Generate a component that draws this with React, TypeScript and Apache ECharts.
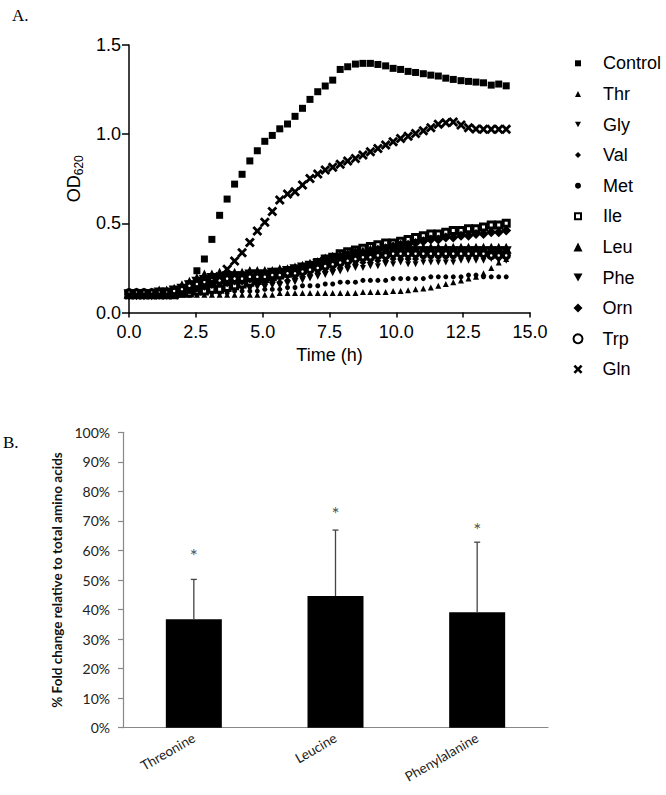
import React, { useEffect, useRef } from "react";
import * as echarts from "echarts";

// ---------- Panel A data ----------
const time = [0.0, 0.28, 0.56, 0.85, 1.13, 1.41, 1.69, 1.98, 2.26, 2.54, 2.82, 3.1, 3.39, 3.67, 3.95, 4.23, 4.52, 4.8, 5.08, 5.36, 5.64, 5.93, 6.21, 6.49, 6.77, 7.06, 7.34, 7.62, 7.9, 8.18, 8.47, 8.75, 9.03, 9.31, 9.6, 9.88, 10.16, 10.44, 10.72, 11.01, 11.29, 11.57, 11.85, 12.13, 12.42, 12.7, 12.98, 13.26, 13.55, 13.83, 14.11];

const control = [0.10, 0.10, 0.10, 0.10, 0.10, 0.10, 0.11, 0.12, 0.16,
  0.234, 0.30, 0.41, 0.545, 0.636, 0.72, 0.775, 0.85, 0.907, 0.96, 0.993, 1.03, 1.057, 1.10, 1.145, 1.195,
  1.238, 1.27, 1.303, 1.363, 1.378, 1.393, 1.397, 1.397, 1.391, 1.383, 1.369, 1.363, 1.352, 1.346, 1.339, 1.331, 1.326, 1.314, 1.307, 1.30, 1.296, 1.292, 1.288, 1.275, 1.281, 1.271];
const thr = [0.10, 0.10, 0.10, 0.10, 0.10, 0.10, 0.10, 0.10, 0.10,
  0.10, 0.10, 0.10, 0.10, 0.10, 0.10, 0.10, 0.10,
  0.10, 0.10, 0.10, 0.11, 0.11, 0.11, 0.11, 0.11,
  0.11, 0.11, 0.11, 0.11, 0.11, 0.11, 0.115,
  0.115, 0.115, 0.115, 0.12, 0.12, 0.125, 0.13, 0.135, 0.14,
  0.15, 0.16, 0.17, 0.18, 0.19, 0.20, 0.22, 0.25, 0.28, 0.30];
const gly = [0.10, 0.10, 0.10, 0.10, 0.10, 0.10, 0.10, 0.10, 0.11,
  0.11, 0.11, 0.12, 0.12, 0.12, 0.13, 0.13, 0.13,
  0.14, 0.14, 0.15, 0.15, 0.16, 0.17, 0.18, 0.19,
  0.20, 0.21, 0.22, 0.23, 0.24, 0.25, 0.25,
  0.26, 0.26, 0.27, 0.27, 0.28, 0.27, 0.27, 0.28, 0.28,
  0.28, 0.28, 0.28, 0.29, 0.29, 0.29, 0.29, 0.30, 0.29, 0.29];
const val = [0.10, 0.10, 0.10, 0.10, 0.10, 0.10, 0.10, 0.11, 0.11,
  0.12, 0.12, 0.13, 0.13, 0.14, 0.14, 0.15, 0.15,
  0.16, 0.16, 0.17, 0.17, 0.18, 0.19, 0.20, 0.21,
  0.22, 0.23, 0.24, 0.25, 0.26, 0.27, 0.28,
  0.28, 0.29, 0.29, 0.30, 0.30, 0.30, 0.30, 0.31, 0.31,
  0.31, 0.31, 0.31, 0.32, 0.32, 0.32, 0.32, 0.32, 0.32, 0.32];
const met = [0.10, 0.10, 0.10, 0.10, 0.10, 0.10, 0.10, 0.10, 0.10,
  0.10, 0.11, 0.11, 0.11, 0.11, 0.12, 0.12, 0.12,
  0.12, 0.13, 0.13, 0.13, 0.14, 0.14, 0.15, 0.15,
  0.15, 0.16, 0.16, 0.17, 0.17, 0.17, 0.18,
  0.18, 0.18, 0.18, 0.19, 0.19, 0.19, 0.19, 0.19, 0.20,
  0.20, 0.20, 0.20, 0.20, 0.21, 0.21, 0.20, 0.20, 0.20, 0.20];
const ile = [0.10, 0.10, 0.10, 0.10, 0.10, 0.10, 0.10, 0.11, 0.11,
  0.12, 0.12, 0.13, 0.13, 0.14, 0.15, 0.16, 0.17,
  0.18, 0.19, 0.20, 0.21, 0.22, 0.23, 0.24, 0.26,
  0.28, 0.30, 0.31, 0.33, 0.34, 0.35, 0.36,
  0.37, 0.38, 0.39, 0.39, 0.40, 0.41, 0.42, 0.43, 0.44,
  0.44, 0.45, 0.46, 0.46, 0.47, 0.47, 0.48, 0.49, 0.49, 0.50];
const leu = [0.11, 0.11, 0.11, 0.11, 0.12, 0.12, 0.13, 0.15, 0.17,
  0.19, 0.21, 0.21, 0.22, 0.22, 0.22, 0.22, 0.23,
  0.23, 0.23, 0.23, 0.24, 0.24, 0.25, 0.26, 0.27,
  0.28, 0.30, 0.31, 0.32, 0.33, 0.34, 0.34,
  0.35, 0.35, 0.35, 0.36, 0.36, 0.36, 0.36, 0.36, 0.36,
  0.36, 0.36, 0.36, 0.36, 0.36, 0.36, 0.36, 0.36, 0.36, 0.36];
const phe = [0.10, 0.10, 0.10, 0.10, 0.11, 0.11, 0.12, 0.13, 0.15,
  0.17, 0.18, 0.19, 0.19, 0.20, 0.20, 0.20, 0.21,
  0.21, 0.21, 0.22, 0.22, 0.23, 0.24, 0.25, 0.26,
  0.27, 0.28, 0.29, 0.30, 0.31, 0.32, 0.32,
  0.33, 0.33, 0.34, 0.34, 0.34, 0.34, 0.34, 0.34, 0.34,
  0.34, 0.34, 0.34, 0.34, 0.34, 0.34, 0.34, 0.34, 0.34, 0.34];
const orn = [0.10, 0.10, 0.10, 0.10, 0.10, 0.10, 0.11, 0.12, 0.13,
  0.14, 0.15, 0.16, 0.17, 0.17, 0.18, 0.18, 0.19,
  0.19, 0.20, 0.20, 0.21, 0.22, 0.23, 0.24, 0.25,
  0.27, 0.28, 0.29, 0.30, 0.31, 0.32, 0.33,
  0.34, 0.35, 0.36, 0.37, 0.38, 0.38, 0.39, 0.40, 0.41,
  0.41, 0.42, 0.42, 0.43, 0.43, 0.44, 0.44, 0.45, 0.45, 0.46];
const trp = [0.11, 0.11, 0.11, 0.11, 0.11, 0.11, 0.12, 0.13, 0.15,
  0.16, 0.17, 0.18, 0.18, 0.19, 0.19, 0.19, 0.20,
  0.20, 0.20, 0.21, 0.21, 0.22, 0.22, 0.23, 0.24,
  0.25, 0.26, 0.27, 0.28, 0.29, 0.30, 0.31,
  0.31, 0.32, 0.32, 0.33, 0.33, 0.33, 0.33, 0.33, 0.33,
  0.33, 0.33, 0.33, 0.33, 0.33, 0.33, 0.33, 0.32, 0.32, 0.32];
const gln = [0.10, 0.10, 0.10, 0.10, 0.10, 0.10, 0.10, 0.11, 0.12, 0.13, 0.15, 0.17, 0.20,
  0.242, 0.289, 0.335, 0.393, 0.457, 0.506, 0.567, 0.631, 0.664, 0.677, 0.715, 0.752,
  0.776, 0.799, 0.814, 0.832, 0.849, 0.864, 0.883, 0.901, 0.920, 0.939, 0.957, 0.976, 0.989, 1.004, 1.019, 1.036, 1.055, 1.064, 1.068, 1.051, 1.036, 1.029, 1.027, 1.027, 1.027, 1.027];

const xTicksA = { min: 0, max: 15, interval: 2.5 };
const yTicksA = { min: 0, max: 1.5, interval: 0.5 };

// ---------- Panel B data ----------
const aminoAcids = ["Threonine", "Leucine", "Phenylalanine"];
const foldChange = [36.7, 44.6, 39.1];
const foldError = [13.5, 22.3, 23.7];
const starLevel = [59.5, 74.0, 68.6];

const X_PATH = "path://M0,2L2,0L5,3L8,0L10,2L7,5L10,8L8,10L5,7L2,10L0,8L3,5Z";
const DOWN_TRI = "path://M0,0L10,0L5,9Z";
const FONT_A = "Liberation Sans, Arial, sans-serif";
const FONT_B = "Lato, Open Sans, sans-serif";

type SeriesDef = {
  name: string;
  values: number[];
  symbol: string;
  size: number;
  hollow?: boolean;
  border?: number;
};

const seriesDefs: SeriesDef[] = [
  { name: "Control", values: control, symbol: "rect", size: 7 },
  { name: "Thr", values: thr, symbol: "triangle", size: 6 },
  { name: "Gly", values: gly, symbol: DOWN_TRI, size: 6 },
  { name: "Val", values: val, symbol: "diamond", size: 7 },
  { name: "Met", values: met, symbol: "circle", size: 5 },
  { name: "Ile", values: ile, symbol: "rect", size: 6, hollow: true, border: 3 },
  { name: "Leu", values: leu, symbol: "triangle", size: 11 },
  { name: "Phe", values: phe, symbol: DOWN_TRI, size: 11 },
  { name: "Orn", values: orn, symbol: "diamond", size: 10 },
  { name: "Trp", values: trp, symbol: "circle", size: 6, hollow: true, border: 3.5 },
  { name: "Gln", values: gln, symbol: X_PATH, size: 10 },
];

export default function App() {
  const ref = useRef<HTMLDivElement>(null);

  useEffect(() => {
    if (!ref.current) return;
    const chart = echarts.init(ref.current, undefined, { renderer: "svg" });

    const scatterSeries = seriesDefs.map((d) => ({
      type: "scatter",
      name: d.name,
      xAxisIndex: 0,
      yAxisIndex: 0,
      symbol: d.symbol,
      symbolSize: d.size,
      itemStyle: d.hollow
        ? { color: "#fff", borderColor: "#000", borderWidth: d.border, opacity: 1 }
        : { color: "#000", opacity: 1 },
      data: time.map((t, i) => [t, d.values[i]]),
    }));

    const legendText = {
      fontSize: 18,
      fontFamily: FONT_A,
      color: "#000",
      lineHeight: 20,
    };

    const option: any = {
      animation: false,
      backgroundColor: "#fff",
      textStyle: { fontFamily: FONT_A },
      grid: [
        { left: 129, top: 45, width: 401, height: 267.5, containLabel: false },
        { left: 123, top: 432.3, width: 425, height: 295.4, containLabel: false },
      ],
      legend: [
        {
          data: ["Control", "Thr", "Gly", "Val", "Met", "Ile"],
          orient: "vertical",
          left: 574,
          top: 53.3,
          padding: 0,
          itemWidth: 6,
          itemHeight: 6,
          itemGap: 10.6,
          itemStyle: { opacity: 1 },
          textStyle: { ...legendText, padding: [0, 0, 0, 17] },
        },
        {
          data: ["Leu", "Phe", "Orn", "Trp", "Gln"],
          orient: "vertical",
          left: 572.5,
          top: 236.9,
          padding: 0,
          itemWidth: 9,
          itemHeight: 9,
          itemGap: 10.6,
          itemStyle: { opacity: 1 },
          textStyle: { ...legendText, padding: [0, 0, 0, 15] },
        },
      ],
      xAxis: [
        {
          type: "value",
          gridIndex: 0,
          ...xTicksA,
          axisLine: { lineStyle: { color: "#000", width: 1.5 } },
          axisTick: { length: 5, lineStyle: { color: "#000", width: 1.5 } },
          axisLabel: {
            formatter: (v: number) => v.toFixed(1),
            fontSize: 18,
            color: "#000",
            fontFamily: FONT_A,
            margin: 10,
          },
          splitLine: { show: false },
          name: "Time (h)",
          nameLocation: "middle",
          nameGap: 33,
          nameTextStyle: { fontSize: 18, color: "#000", fontFamily: FONT_A },
        },
        {
          type: "category",
          gridIndex: 1,
          data: aminoAcids,
          axisLine: { lineStyle: { color: "#888", width: 1.2 } },
          axisTick: { show: false },
          axisLabel: {
            rotate: 30,
            fontSize: 13.5,
            color: "#222",
            fontFamily: FONT_B,
            margin: 9,
          },
        },
      ],
      yAxis: [
        {
          type: "value",
          gridIndex: 0,
          ...yTicksA,
          axisLine: { show: true, lineStyle: { color: "#000", width: 1.5 } },
          axisTick: { show: true, length: 7, lineStyle: { color: "#000", width: 1.5 } },
          axisLabel: {
            formatter: (v: number) => v.toFixed(1),
            fontSize: 18,
            color: "#000",
            fontFamily: FONT_A,
            margin: 8,
          },
          splitLine: { show: false },
          name: "{a|OD}{b|620}",
          nameLocation: "middle",
          nameRotate: 90,
          nameGap: 40,
          nameTextStyle: {
            rich: {
              a: { fontSize: 18, lineHeight: 22, color: "#000", fontFamily: FONT_A, verticalAlign: "middle" },
              b: { fontSize: 12, lineHeight: 12, color: "#000", fontFamily: FONT_A, verticalAlign: "bottom" },
            },
          },
        },
        {
          type: "value",
          gridIndex: 1,
          min: 0,
          max: 100,
          interval: 10,
          axisLine: { show: true, lineStyle: { color: "#888", width: 1.2 } },
          axisTick: { show: true, length: 5, lineStyle: { color: "#888", width: 1.2 } },
          axisLabel: {
            formatter: "{value}%",
            fontSize: 14,
            color: "#222",
            fontFamily: FONT_B,
            margin: 13,
          },
          splitLine: { show: false },
          name: "% Fold change relative to total amino acids",
          nameLocation: "middle",
          nameRotate: 90,
          nameGap: 52,
          nameTextStyle: { fontSize: 13.5, fontWeight: "bold", color: "#111", fontFamily: FONT_B },
        },
      ],
      graphic: [
        { type: "text", left: 12, top: 7, style: { text: "A.", font: "17px 'Liberation Serif', 'Times New Roman', serif", fill: "#000" } },
        { type: "text", left: 3, top: 434, style: { text: "B.", font: "17px 'Liberation Serif', 'Times New Roman', serif", fill: "#000" } },
      ],
      series: [
        ...scatterSeries,
        {
          type: "bar",
          name: "fold",
          xAxisIndex: 1,
          yAxisIndex: 1,
          data: foldChange,
          barWidth: 56,
          itemStyle: { color: "#000" },
        },
        {
          type: "custom",
          name: "error",
          xAxisIndex: 1,
          yAxisIndex: 1,
          itemStyle: { color: "#444" },
          data: aminoAcids.map((_, i) => [i, foldChange[i], foldError[i]]),
          z: 10,
          renderItem: (params: any, api: any) => {
            const i = api.value(0);
            const base = api.coord([i, api.value(1)]);
            const top = api.coord([i, api.value(1) + api.value(2)]);
            const cap = 3;
            return {
              type: "group",
              children: [
                {
                  type: "line",
                  shape: { x1: base[0], y1: base[1], x2: top[0], y2: top[1] },
                  style: { stroke: "#444", lineWidth: 1.3 },
                },
                {
                  type: "line",
                  shape: { x1: top[0] - cap, y1: top[1], x2: top[0] + cap, y2: top[1] },
                  style: { stroke: "#444", lineWidth: 1.3 },
                },
              ],
            };
          },
        },
        {
          type: "scatter",
          name: "significance",
          xAxisIndex: 1,
          yAxisIndex: 1,
          symbol: "circle",
          symbolSize: 1,
          itemStyle: { color: "rgba(0,0,0,0)" },
          data: aminoAcids.map((_, i) => [i, starLevel[i]]),
          label: {
            show: true,
            position: "inside",
            formatter: "*",
            fontSize: 19,
            fontFamily: FONT_B,
            color: "#222",
            offset: [0, 4],
          },
          z: 11,
        },
      ],
    };

    chart.setOption(option);
    return () => chart.dispose();
  }, []);

  return (
    <div
      ref={ref}
      style={{ position: "absolute", left: 0, top: 0, width: 666, height: 795, background: "#fff" }}
    />
  );
}
